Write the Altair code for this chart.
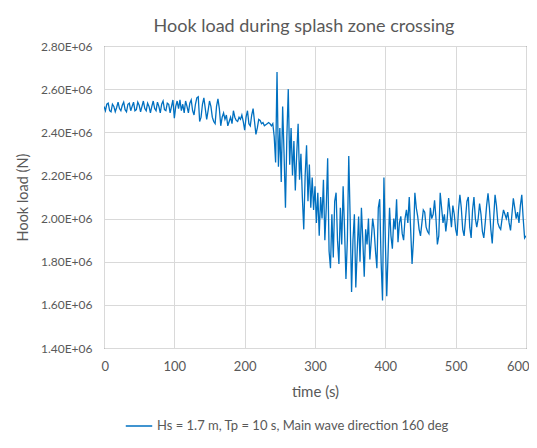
import altair as alt
import pandas as pd

TITLE = "Hook load during splash zone crossing"
X_TITLE = "time (s)"
Y_TITLE = "Hook load (N)"
SERIES = "Hs = 1.7 m, Tp = 10 s, Main wave direction 160 deg"

X_TICKS = [0, 100, 200, 300, 400, 500, 600]
Y_TICKS = [1.4e6, 1.6e6, 1.8e6, 2.0e6, 2.2e6, 2.4e6, 2.6e6, 2.8e6]

STEP = 2  # seconds between samples

# hook load in MN, segment by segment (start time, values)
seg_a_start = 0
seg_a = [2.520, 2.500, 2.530, 2.535, 2.500, 2.495, 2.530, 2.520, 2.495, 2.515,
         2.540, 2.510, 2.500, 2.525, 2.540, 2.505, 2.495, 2.530, 2.535, 2.500,
         2.520, 2.540, 2.500, 2.505, 2.540, 2.525, 2.495, 2.520, 2.545, 2.510,
         2.500, 2.535, 2.520, 2.490, 2.520, 2.545, 2.510, 2.500, 2.540, 2.520,
         2.490, 2.530, 2.545, 2.505, 2.500, 2.535, 2.530, 2.490, 2.520, 2.550]
seg_b_start = 100
seg_b = [2.465, 2.520, 2.545, 2.510, 2.550, 2.500, 2.530, 2.490, 2.545, 2.520,
         2.490, 2.535, 2.550, 2.500, 2.480, 2.530, 2.560, 2.565, 2.450, 2.470,
         2.530, 2.560, 2.510, 2.460, 2.500, 2.545, 2.520, 2.470, 2.450, 2.440,
         2.520, 2.555, 2.510, 2.430, 2.470]
seg_c_start = 170
seg_c = [2.490, 2.460, 2.480, 2.430, 2.450, 2.470, 2.440, 2.500, 2.470, 2.455,
         2.450, 2.470, 2.460, 2.480, 2.450, 2.410, 2.470, 2.500, 2.440, 2.430,
         2.480, 2.510, 2.450, 2.390, 2.420, 2.460, 2.455, 2.440, 2.445, 2.430,
         2.435, 2.440, 2.445, 2.440, 2.430, 2.440, 2.380]
seg_d_start = 244
seg_d = [2.260, 2.680, 2.240, 2.420, 2.170, 2.520, 2.300, 2.050, 2.380, 2.600,
         2.250, 2.420, 2.200, 2.360, 2.130, 2.300, 2.440, 2.180, 2.300, 2.100,
         1.950, 2.200, 2.340, 2.080, 2.250, 2.050, 2.190, 2.040, 2.150]
seg_e_start = 302
seg_e = [1.980, 2.120, 1.920, 2.100, 2.000, 2.180, 1.900, 2.050, 2.280, 1.850,
         1.770, 2.020, 1.820, 2.080, 2.120, 1.900, 1.790, 2.050, 1.880, 2.150,
         1.950, 1.720, 1.900, 2.290, 2.000, 1.660, 1.900, 2.020, 1.680, 1.850]
seg_f_start = 362
seg_f = [2.010, 1.800, 2.050, 1.900, 1.730, 1.950, 1.880, 2.000, 1.810, 1.900,
         2.000, 1.950, 1.850, 1.770, 2.050, 2.090, 1.800, 1.620, 2.190, 1.900,
         1.640, 1.850, 2.050, 1.920, 1.860, 2.000, 1.950, 2.090, 1.890, 1.980]
seg_g_start = 422
seg_g = [2.010, 1.930, 1.900, 2.000, 2.040, 1.980, 2.100, 1.950, 1.790, 1.900,
         2.120, 2.050, 2.010, 1.950, 1.920, 1.980, 2.040, 2.030, 1.960, 1.940,
         1.930, 2.050, 2.000, 2.020, 2.085, 2.000, 1.880, 1.920, 2.120, 2.050]
seg_h_start = 482
seg_h = [1.980, 2.020, 1.940, 2.000, 2.095, 2.030, 1.960, 2.060, 2.020, 1.950,
         1.920, 2.040, 2.110, 2.050, 1.950, 1.920, 2.000, 2.080, 2.100, 1.960,
         1.910, 2.040, 2.100, 2.000, 1.960, 2.000, 2.070, 2.020, 1.940, 1.910,
         1.980, 2.060, 2.117, 2.050, 1.950, 1.885, 2.000, 2.110, 2.060, 1.980,
         1.960, 1.950, 2.000, 2.040, 2.020, 2.000, 2.030, 1.980, 1.945, 2.020,
         2.094, 2.050, 2.000, 2.030, 1.980, 2.060, 2.110, 2.000, 1.910, 1.920]

segments = [(seg_a_start, seg_a), (seg_b_start, seg_b), (seg_c_start, seg_c),
            (seg_d_start, seg_d), (seg_e_start, seg_e), (seg_f_start, seg_f),
            (seg_g_start, seg_g), (seg_h_start, seg_h)]

rows = []
for start, vals in segments:
    for i, v in enumerate(vals):
        rows.append({"time": start + STEP * i, "load": v * 1e6, "series": SERIES})
df = pd.DataFrame(rows)

FONT = "Lato"
GREY = "#595959"

chart = alt.Chart(df).mark_line(strokeWidth=1.3, clip=True).encode(
    x=alt.X("time:Q",
            scale=alt.Scale(domain=[0, 600], nice=False, zero=False),
            axis=alt.Axis(values=X_TICKS, title=X_TITLE, labelPadding=12,
                          titlePadding=11, labelFontSize=13, titleFontSize=15,
                          labelFlush=True, labelFlushOffset=3)),
    y=alt.Y("load:Q",
            scale=alt.Scale(domain=[1.4e6, 2.8e6], nice=False, zero=False),
            axis=alt.Axis(values=Y_TICKS, title=Y_TITLE, labelPadding=12,
                          titlePadding=10, labelFontSize=12, titleFontSize=14.5,
                          labelExpr="format(datum.value / 1000000, '.2f') + 'E+06'")),
    color=alt.Color("series:N",
                    scale=alt.Scale(range=["#0070C0"]),
                    legend=alt.Legend(title=None, orient="none", legendX=21, legendY=366,
                                      symbolType="stroke", symbolSize=700,
                                      symbolStrokeWidth=1.5, labelFontSize=13,
                                      labelLimit=0,
                                      labelFont=FONT, labelColor=GREY)),
).properties(
    width=422,
    height=302,
    title=alt.TitleParams(TITLE, fontSize=18, font=FONT, color=GREY,
                          fontWeight="normal", anchor="middle", offset=4, dx=-11),
    autosize=alt.AutoSizeParams(type="none"),
    padding={"left": 96, "top": 38, "right": 3, "bottom": 88},
    background="white",
).configure_view(
    stroke="#404040", strokeWidth=1
).configure_axis(
    grid=True, gridColor="#D9D9D9", gridWidth=1, domain=False, ticks=False,
    labelFont=FONT, titleFont=FONT, labelColor=GREY, titleColor=GREY,
    titleFontWeight="normal"
)

chart.save("out.html", embed_options={"renderer": "svg", "actions": False})
